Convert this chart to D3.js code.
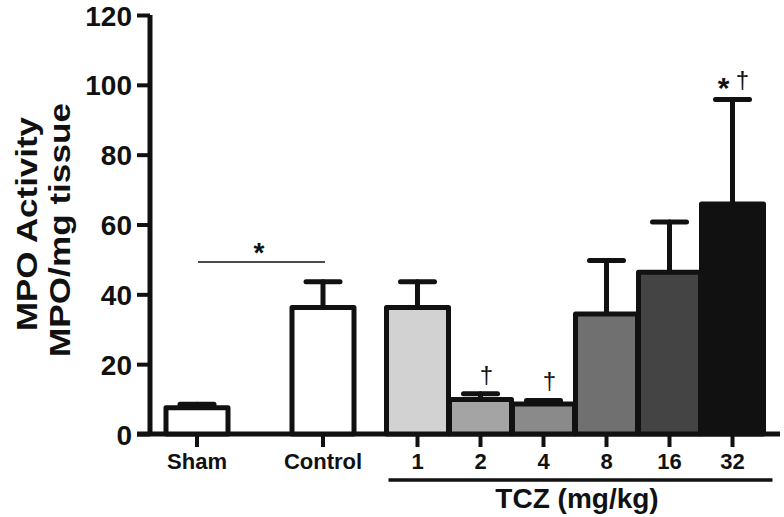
<!DOCTYPE html>
<html><head><meta charset="utf-8">
<script src="https://cdn.jsdelivr.net/npm/d3@7"></script>
<style>html,body{margin:0;padding:0;background:#fff;}svg{display:block;}text{font-family:"Liberation Sans",Arial,sans-serif;}</style>
</head><body>
<script>
const categories = ["Sham","Control","1","2","4","8","16","32"];
const means      = [7.5, 36.2, 36.2, 9.9, 8.6, 34.4, 46.3, 65.9];
const errors     = [1.0, 7.4, 7.4, 1.6, 1.0, 15.3, 14.4, 29.9];
const fills      = ["#ffffff","#ffffff","#d2d2d2","#a4a4a4","#8a8a8a","#707070","#444444","#111111"];
const marks      = ["", "", "", "†", "†", "", "", "*†"];
const yTicks     = [0,20,40,60,80,100,120];
const groupLabel = "TCZ (mg/kg)";
const yTitle     = ["MPO Activity","MPO/mg tissue"];

const W = 784, H = 517;
const svg = d3.select("body").append("svg").attr("width",W).attr("height",H);
const ink = "#111";

// layout: slot index of each category (gaps between groups)
const slot = d3.scaleOrdinal().domain(categories).range([0,2,3.5,4.5,5.5,6.5,7.5,8.5]);
const x = d3.scaleLinear().domain([0,8.5]).range([197,732.5]);
const y = d3.scaleLinear().domain([0,120]).range([434,15]);
const bw = 62;

// y axis
const yAxis = d3.axisLeft(y).tickValues(yTicks).tickSize(13).tickPadding(5);
const gy = svg.append("g").attr("transform","translate(150,0)").call(yAxis);
gy.select(".domain").attr("stroke",ink).attr("stroke-width",5).attr("d",`M0,${y(120)}V${y(0)}`);
gy.selectAll(".tick line").attr("stroke",ink).attr("stroke-width",4);
gy.selectAll(".tick text").attr("fill",ink).attr("font-size",28).attr("font-weight","bold").attr("dy","0.36em");

// x axis
const gx = svg.append("g").attr("transform",`translate(0,${y(0)})`);
gx.append("line").attr("x1",137).attr("x2",780).attr("stroke",ink).attr("stroke-width",5);
gx.selectAll("line.tk").data(categories).join("line").attr("class","tk")
  .attr("x1",d=>x(slot(d))).attr("x2",d=>x(slot(d))).attr("y1",0).attr("y2",13)
  .attr("stroke",ink).attr("stroke-width",4);
gx.selectAll("text.tl").data(categories).join("text").attr("class","tl")
  .attr("x",d=>x(slot(d))).attr("y",35).attr("text-anchor","middle")
  .attr("font-size",22).attr("font-weight","bold").attr("fill",ink).text(d=>d);

// group line and label
const tcz = categories.slice(2);
svg.append("line").attr("x1",x(slot(tcz[0]))-29).attr("x2",x(slot(tcz[tcz.length-1]))+40)
  .attr("y1",480).attr("y2",480).attr("stroke",ink).attr("stroke-width",3.5);
svg.append("text").attr("x",(x(slot(tcz[0]))+x(slot(tcz[tcz.length-1])))/2+2).attr("y",508)
  .attr("text-anchor","middle").attr("font-size",28).attr("font-weight","bold").attr("fill",ink).text(groupLabel);

// error bars
const data = categories.map((c,i)=>({c, m:means[i], e:errors[i], f:fills[i], k:marks[i]}));
const eb = svg.append("g").attr("stroke",ink).attr("stroke-width",5).attr("stroke-linecap","round");
eb.selectAll("line.v").data(data).join("line").attr("class","v")
  .attr("x1",d=>x(slot(d.c))).attr("x2",d=>x(slot(d.c))).attr("y1",d=>y(d.m)).attr("y2",d=>y(d.m+d.e));
eb.selectAll("line.c").data(data).join("line").attr("class","c")
  .attr("x1",d=>x(slot(d.c))-17).attr("x2",d=>x(slot(d.c))+17).attr("y1",d=>y(d.m+d.e)).attr("y2",d=>y(d.m+d.e));

// bars
svg.append("g").selectAll("rect").data(data).join("rect")
  .attr("x",d=>x(slot(d.c))-bw/2).attr("width",bw)
  .attr("y",d=>y(d.m)).attr("height",d=>y(0)-y(d.m))
  .attr("fill",d=>d.f).attr("stroke",ink).attr("stroke-width",5).attr("stroke-linejoin","round");

// significance marks
const mk = svg.append("g");
data.filter(d=>d.k).forEach(d=>{
  const cx = x(slot(d.c)), ty = y(d.m+d.e);
  if (d.k === "†") {
    mk.append("text").attr("x",cx+6).attr("y",ty-11).attr("text-anchor","middle")
      .attr("font-size",24).attr("fill",ink).text("†");
  } else {
    mk.append("text").attr("x",cx-9).attr("y",ty-1).attr("text-anchor","middle")
      .attr("font-size",30).attr("font-weight","bold").attr("fill",ink).text("*");
    mk.append("text").attr("x",cx+10).attr("y",ty-11).attr("text-anchor","middle")
      .attr("font-size",24).attr("fill",ink).text("†");
  }
});

// Sham vs Control bracket
svg.append("line").attr("x1",x(slot("Sham"))+1).attr("x2",x(slot("Control"))+2)
  .attr("y1",262).attr("y2",262).attr("stroke",ink).attr("stroke-width",1.6);
svg.append("text").attr("x",(x(slot("Sham"))+x(slot("Control")))/2-1).attr("y",262)
  .attr("text-anchor","middle").attr("font-size",28).attr("font-weight","bold").attr("fill",ink).text("*");

// y title
const yt = svg.append("g");
yt.append("text").attr("transform","translate(37,224) rotate(-90)").attr("text-anchor","middle")
  .attr("font-size",30).attr("font-weight","bold").attr("fill",ink)
  .attr("textLength",214).attr("lengthAdjust","spacingAndGlyphs").text(yTitle[0]);
yt.append("text").attr("transform","translate(70,230) rotate(-90)").attr("text-anchor","middle")
  .attr("font-size",30).attr("font-weight","bold").attr("fill",ink)
  .attr("textLength",254).attr("lengthAdjust","spacingAndGlyphs").text(yTitle[1]);
</script>
</body></html>
